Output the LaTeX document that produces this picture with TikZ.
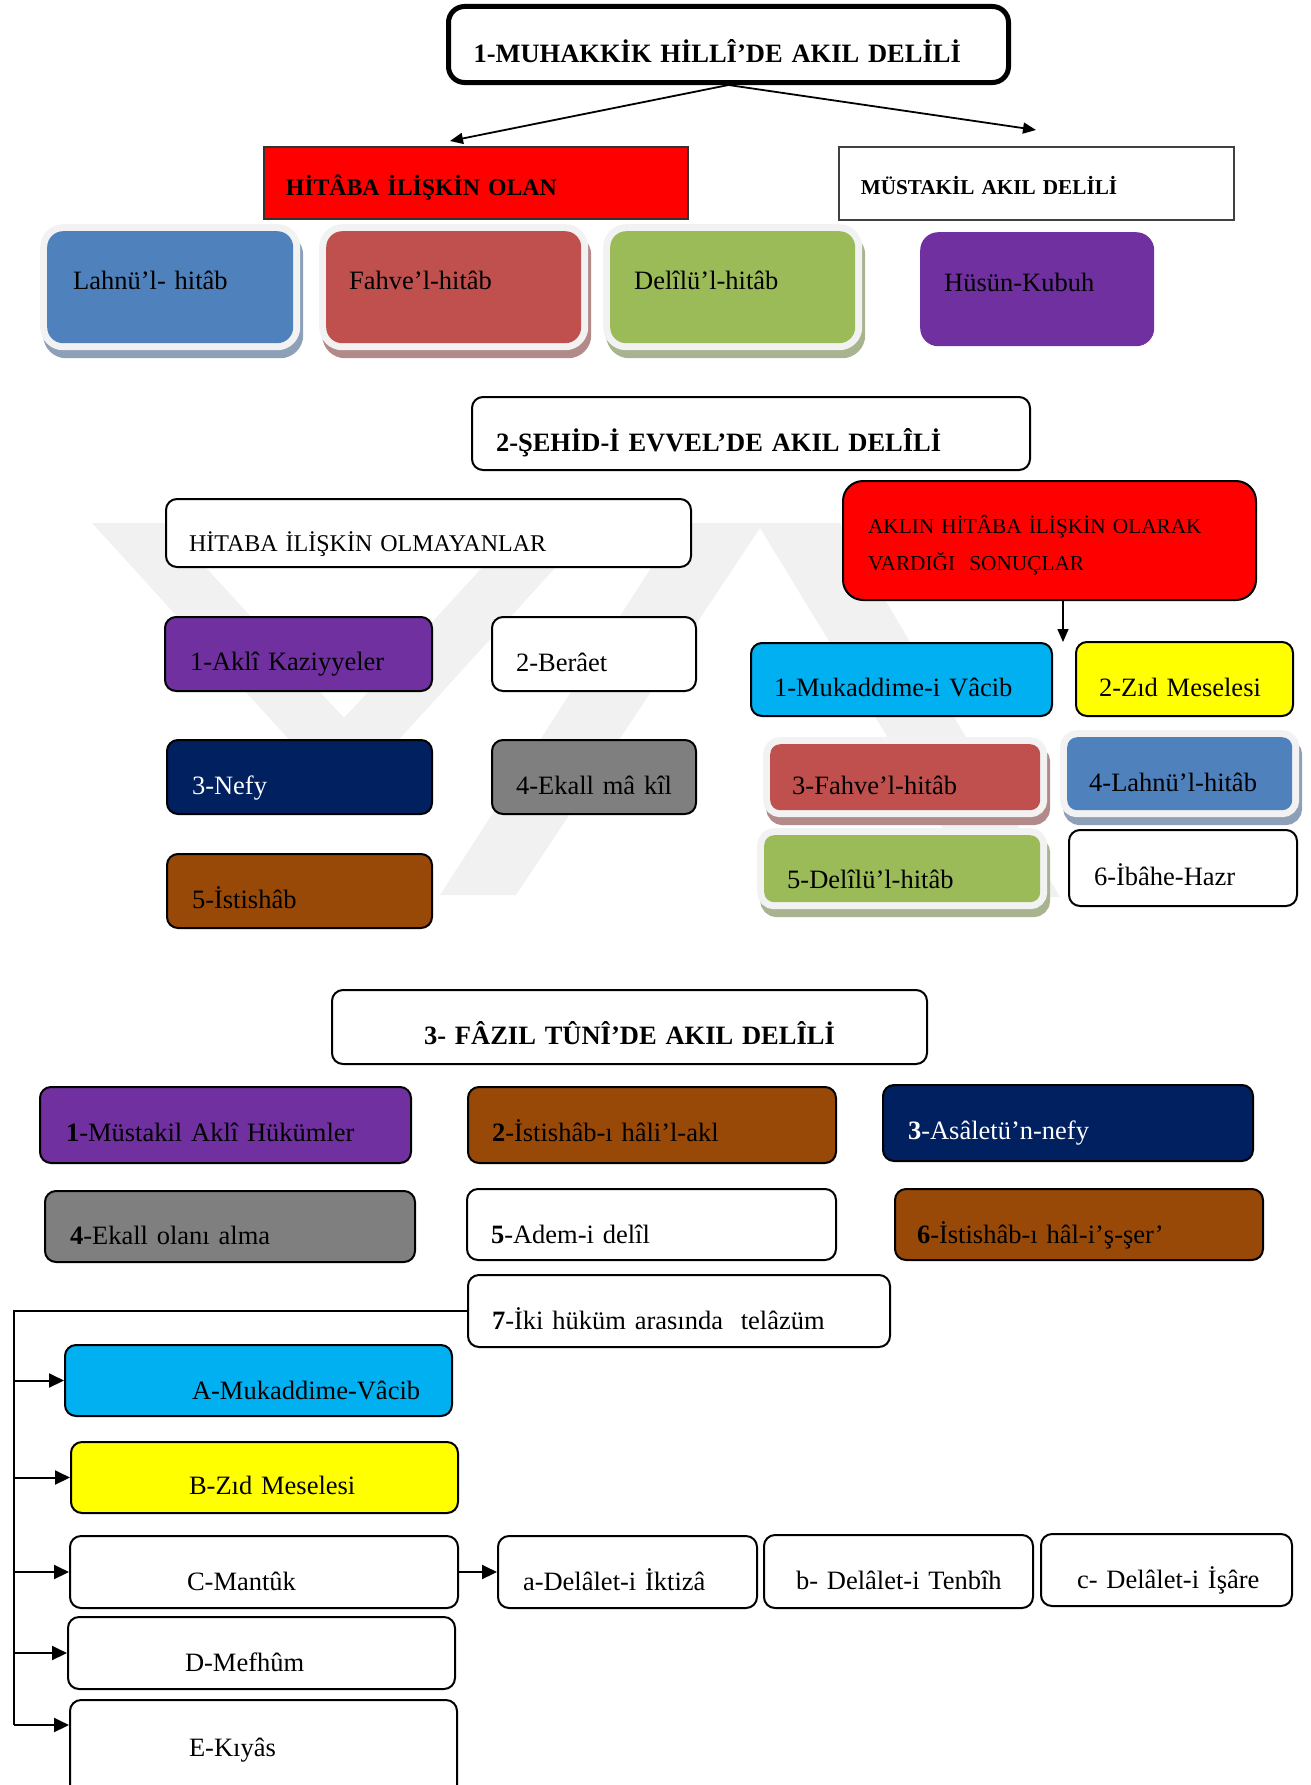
\documentclass[tikz,border=0pt]{standalone}
\usepackage{fontspec}
\setmainfont{Liberation Serif}
\usetikzlibrary{arrows.meta}

\definecolor{halo}{HTML}{F2F2F2}
\definecolor{wmark}{HTML}{F1F1F1}
\definecolor{lahblue}{HTML}{4F81BD}
\definecolor{fahred}{HTML}{C0504D}
\definecolor{delgreen}{HTML}{9BBB59}
\definecolor{shblue}{HTML}{8E9FB8}
\definecolor{shred}{HTML}{B38A8A}
\definecolor{shgreen}{HTML}{A8B48F}
\definecolor{kpurple}{HTML}{7030A0}
\definecolor{kred}{HTML}{FF0000}
\definecolor{kcyan}{HTML}{00B0F0}
\definecolor{kyellow}{HTML}{FFFF00}
\definecolor{knavy}{HTML}{002060}
\definecolor{kgray}{HTML}{7F7F7F}
\definecolor{kbrown}{HTML}{984807}

\newcommand\mainsz{\fontsize{26.5pt}{32pt}\selectfont}

\tikzset{
  cell/.style      = {shape=rectangle, anchor=north west, align=left,
                      inner ysep=0pt, font=\mainsz},
  card/.style      = {cell, draw=black, line width=2pt, fill=white,
                      rounded corners=11pt},
  glow/.style      = {cell, rounded corners=14pt,
                      preaction={fill=#1, draw=#1, line width=14pt,
                                 transform canvas={shift={(3pt,-8pt)}}},
                      preaction={draw=halo, line width=14pt}},
  head/.style      = {card, font=\bfseries\mainsz},
  sz/.style n args = {3}{minimum height=#2pt, inner xsep=6pt, text width=#1pt-12pt,
                      execute at begin node={\hspace*{\dimexpr#3pt-6pt\relax}}},
  tb/.style        = {text height=#1, text depth=0pt}
}

\begin{document}
\begin{tikzpicture}
  [
    x           = 1pt,
    y           = -1pt,
    link/.style = {-{Triangle[length=13pt,width=11pt]}, line width=1.8pt},
    feed/.style = {-{Triangle[length=15pt,width=14pt]}, line width=2pt}
  ]
  \useasboundingbox (0,0) rectangle (1311,1785);
  \clip (0,0) rectangle (1311,1785);

  % watermark
  \fill[wmark] (92,523) -- (165,523) -- (344,718) -- (523,523) -- (596,523) -- (344,800) -- cycle;
  \fill[wmark] (680,523) -- (840,523) -- (1060,897) -- (985,897) -- (760,528)
    -- (516,895) -- (440,895) -- cycle;

  % 1
  \node [head, line width=5pt, rounded corners=16pt, sz={560}{76}{25}, tb=36pt] (muh) at (446,4)
    {1-MUHAKKİK HİLLÎ’DE AKIL DELİLİ};
  \node [cell, fill=kred, draw=black!80, line width=1.5pt,
         font=\bfseries\fontsize{23.8pt}{28pt}\selectfont, sz={424}{72}{22}, tb=26pt] (hit) at (263,146)
    {HİTÂBA İLİŞKİN OLAN};
  \node [cell, fill=white, draw=black!75, line width=1.5pt,
         font=\bfseries\fontsize{21.2pt}{26pt}\selectfont, sz={395}{73}{22}, tb=22pt] (mus) at (838,146)
    {MÜSTAKİL AKIL DELİLİ};
  \coordinate (hitend) at (450,141);
  \coordinate (musend) at (1036,130);
  \draw [link] (muh.south) -- (hitend);
  \draw [link] (muh.south) -- (musend);

  \node [glow=shblue, fill=lahblue, rounded corners=16pt, sz={246}{112}{26}, tb=4pt] (lah) at (47,231) {Lahnü’l- hitâb};
  \node [glow=shred, fill=fahred, rounded corners=16pt, sz={255}{112}{23}, tb=4pt] (fah) at (326,231) {Fahve’l-hitâb};
  \node [glow=shgreen, fill=delgreen, rounded corners=16pt, sz={245}{112}{24}, tb=4pt] (del) at (610,231) {Delîlü’l-hitâb};
  \node [cell, fill=kpurple, rounded corners=18pt, sz={234}{114}{24}, tb=4pt] (hus) at (920,232) {Hüsün-Kubuh};

  % 2
  \node [head, sz={558}{73}{24}, tb=36pt] (seh) at (471,396) {2-ŞEHİD-İ EVVEL’DE AKIL DELÎLİ};
  \node [card, font=\fontsize{24pt}{29pt}\selectfont, sz={525}{68}{23}, tb=36pt] (hno) at (165,498)
    {HİTABA İLİŞKİN OLMAYANLAR};
  \node [card, fill=kred, rounded corners=20pt, font=\fontsize{21.3pt}{37pt}\selectfont,
         sz={413}{119}{6}, inner xsep=25pt, text width=363pt, text height=0pt, text depth=15pt] (akl) at (842,480)
    {AKLIN HİTÂBA İLİŞKİN OLARAK\\VARDIĞI\ \ SONUÇLAR};
  \coordinate (sonend) at (1063,642);
  \draw [link, line width=1.5pt] (akl.south -| sonend) -- (sonend);

  \node [card, fill=kpurple, sz={267}{74}{25}, tb=32pt] (n1) at (164,616) {1-Aklî Kaziyyeler};
  \node [card, sz={204}{74}{24}, tb=34pt] (n2) at (491,616) {2-Berâet};
  \node [card, fill=knavy, text=white, sz={265}{74}{25}, tb=34pt] (n3) at (166,739) {3-Nefy};
  \node [card, fill=kgray, sz={204}{74}{24}, tb=34pt] (n4) at (491,739) {4-Ekall mâ kîl};
  \node [card, fill=kbrown, sz={265}{74}{25}, tb=34pt] (n5) at (166,853) {5-İstishâb};

  \node [card, fill=kcyan, sz={301}{73}{23}, tb=33pt] (m1) at (750,642) {1-Mukaddime-i Vâcib};
  \node [card, fill=kyellow, sz={217}{74}{23}, tb=34pt] (m2) at (1075,641) {2-Zıd Meselesi};
  \node [glow=shred, fill=fahred, rounded corners=10pt, sz={270}{66}{22}, tb=34pt] (m3) at (770,744) {3-Fahve’l-hitâb};
  \node [glow=shblue, fill=lahblue, rounded corners=10pt, sz={225}{73}{22}, tb=35pt] (m4) at (1067,737) {4-Lahnü’l-hitâb};
  \node [glow=shgreen, fill=delgreen, rounded corners=10pt, sz={276}{67}{23}, tb=40pt] (m5) at (764,835) {5-Delîlü’l-hitâb};
  \node [card, sz={228}{76}{25}, tb=34pt] (m6) at (1068,829) {6-İbâhe-Hazr};

  % 3
  \node [head, align=center, sz={595}{74}{6}, tb=34pt] (fazil) at (331,989) {3- FÂZIL TÛNÎ’DE AKIL DELÎLİ};
  \node [card, fill=kpurple, sz={371}{76}{26}, tb=32pt] (r1) at (39,1086) {\textbf{1}-Müstakil Aklî Hükümler};
  \node [card, fill=kbrown, sz={368}{76}{24}, tb=32pt] (r2) at (467,1086) {\textbf{2}-İstishâb-ı hâli’l-akl};
  \node [card, fill=knavy, text=white, sz={370}{76}{25}, tb=32pt] (r3) at (882,1084) {\textbf{3}-Asâletü’n-nefy};
  \node [card, fill=kgray, sz={370}{71}{25}, tb=35pt] (r4) at (44,1190) {\textbf{4}-Ekall olanı alma};
  \node [card, sz={369}{71}{24}, tb=37pt] (r5) at (466,1188) {\textbf{5}-Adem-i delîl};
  \node [card, fill=kbrown, sz={368}{71}{22}, tb=37pt] (r6) at (894,1188) {\textbf{6}-İstishâb-ı hâl-i’ş-şer’};
  \node [card, sz={422}{72}{24}, tb=36pt] (r7) at (467,1274) {\textbf{7}-İki hüküm arasında\ \ telâzüm};

  \node [card, fill=kcyan, sz={387}{71}{127}, tb=37pt] (ka) at (64,1344) {A-Mukaddime-Vâcib};
  \node [card, fill=kyellow, sz={387}{71}{118}, tb=34pt] (kb) at (70,1441) {B-Zıd Meselesi};
  \node [card, sz={388}{72}{117}, tb=36pt] (kc) at (69,1535) {C-Mantûk};
  \node [card, sz={387}{72}{117}, tb=36pt] (kd) at (67,1616) {D-Mefhûm};
  \node [card, sz={387}{112}{119}, tb=0pt] (ke) at (69,1699) {E-Kıyâs};

  \node [card, sz={259}{72}{25}, tb=36pt] (da) at (497,1535) {a-Delâlet-i İktizâ};
  \node [card, sz={269}{73}{32}, tb=36pt] (db) at (763,1534) {b- Delâlet-i Tenbîh};
  \node [card, sz={251}{72}{36}, tb=36pt] (dc) at (1040,1533) {c- Delâlet-i İşâre};

  \coordinate (railend) at (14,1725);
  \draw [line width=2pt] (r7.west) -| (railend);
  \foreach \k in {ka,kb,kc,kd}
    \draw [feed] (railend |- \k.west) -- (\k.west);
  \draw [feed] (railend) -- (railend -| ke.west);
  \draw [feed] (kc.east) -- (da.west);
\end{tikzpicture}
\end{document}
